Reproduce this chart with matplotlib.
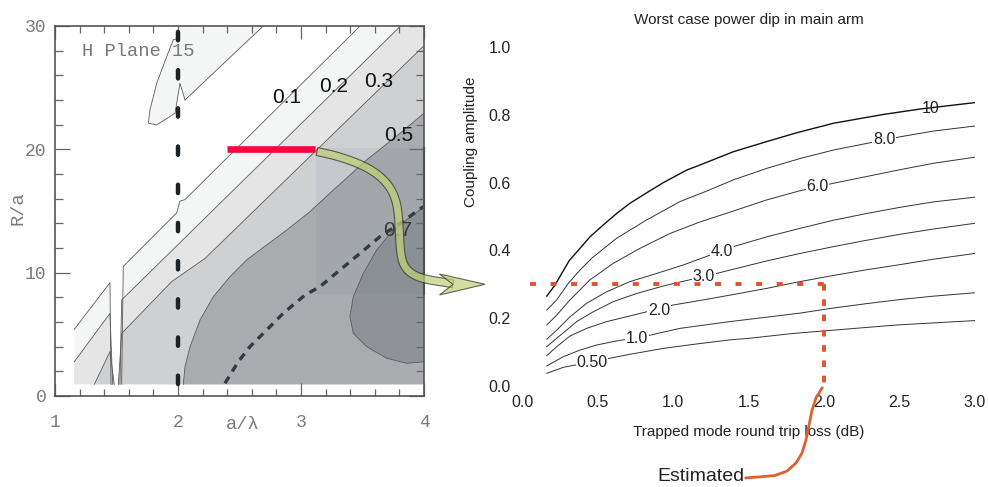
import numpy as np
import matplotlib.pyplot as plt
from matplotlib.patches import Polygon, Rectangle

plt.rcParams['lines.scale_dashes'] = False

# ---- left panel: H plane contour bands (digitised boundaries) ----
x_min, y_bot = 1.157, 0.95

lvl01_x = [1.157, 1.447, 1.455, 1.542, 1.555, 1.989, 2.016, 2.057, 3.48]
lvl01_y = [5.41, 9.19, 0.95, 0.95, 10.51, 14.85, 15.8, 15.93, 30.0]
lvl02_x = [1.157, 1.447, 1.469, 1.528, 1.542, 3.81]
lvl02_y = [2.78, 6.70, 0.95, 0.95, 7.79, 30.0]
lvl03_x = [1.32, 1.447, 1.482, 1.515, 1.542, 1.948, 2.22, 4.0]
lvl03_y = [0.95, 3.60, 0.95, 0.95, 5.08, 9.27, 11.16, 28.4]
lvl05_x = [2.043, 2.057, 2.098, 2.179, 2.287, 2.423, 2.558, 2.721, 2.884, 3.073, 3.263, 3.534, 3.805, 4.0]
lvl05_y = [0.95, 2.38, 4.00, 6.16, 8.05, 9.68, 11.03, 12.25, 13.46, 14.95, 16.7, 19.14, 21.3, 22.93]
lvl07_x = [4.0, 3.75, 3.615, 3.507, 3.425, 3.398, 3.425, 3.534, 3.697, 3.859, 4.0]
lvl07_y = [15.35, 13.46, 11.84, 9.95, 8.05, 6.43, 5.09, 4.00, 3.06, 2.65, 2.78]
island_x = [2.002, 2.016, 2.693, 2.057, 2.016, 1.976, 1.827, 1.759, 1.772, 1.827, 1.908, 1.962]
island_y = [29.0, 30.0, 30.0, 24.0, 25.36, 22.93, 21.98, 22.12, 23.2, 25.36, 27.52, 28.88]
dash_x = [2.382, 2.423, 2.49, 2.585, 2.721, 2.856, 3.033, 3.154, 3.317, 3.48, 3.642, 3.805, 3.994]
dash_y = [1.03, 1.70, 2.78, 4.00, 5.35, 6.71, 8.19, 8.86, 10.22, 11.57, 12.92, 14.0, 15.35]
band_levels = ['0.1', '0.2', '0.3', '0.5', '0.7']
band_label_x = [2.886, 3.268, 3.634, 3.797, 3.786]
band_label_y = [24.17, 25.08, 25.5, 21.1, 13.4]
band_colors = ['#f4f5f5', '#e5e5e6', '#cfd0d2', '#a9abaf', '#8f9297']
red_bar_x = [2.396, 3.114]
red_bar_y = 20.0

# ---- right panel: worst case power dip contours ----
dip_levels = ['0.50', '1.0', '2.0', '3.0', '4.0', '6.0', '8.0', '10']
dip_x = [
    [0.164, 0.273, 0.583, 0.715, 0.936, 1.157, 1.377, 1.51, 1.795, 2.482, 3.0],
    [0.164, 0.273, 0.384, 0.495, 0.605, 0.848, 1.046, 1.377, 1.621, 1.841, 2.062, 2.283, 2.503, 2.724, 3.0],
    [0.164, 0.230, 0.318, 0.428, 0.561, 0.715, 1.002, 1.201, 1.377, 1.621, 1.841, 2.062, 2.283, 2.503, 2.724, 3.0],
    [0.164, 0.230, 0.296, 0.362, 0.472, 0.605, 0.760, 0.936, 1.289, 1.377, 1.621, 1.841, 2.062, 2.283, 2.503, 2.724, 3.0],
    [0.164, 0.230, 0.318, 0.428, 0.561, 0.715, 0.892, 1.068, 1.399, 1.621, 1.841, 2.062, 2.283, 2.503, 2.724, 3.0],
    [0.164, 0.230, 0.318, 0.450, 0.605, 0.781, 0.980, 1.179, 1.399, 1.621, 1.841, 2.062, 2.283, 2.503, 2.724, 3.0],
    [0.164, 0.230, 0.307, 0.384, 0.462, 0.627, 0.826, 1.046, 1.223, 1.399, 1.621, 1.841, 2.062, 2.503, 2.724, 3.0],
    [0.164, 0.219, 0.263, 0.313, 0.384, 0.450, 0.538, 0.627, 0.715, 0.826, 0.936, 1.091, 1.179, 1.399,
     1.621, 1.819, 2.062, 2.393, 2.636, 3.0],
]
dip_y = [
    [0.0375, 0.055, 0.082, 0.0935, 0.111, 0.124, 0.136, 0.141, 0.155, 0.180, 0.193],
    [0.059, 0.0864, 0.106, 0.121, 0.131, 0.150, 0.170, 0.190, 0.203, 0.215, 0.230, 0.243, 0.255, 0.265, 0.275],
    [0.0894, 0.116, 0.1475, 0.170, 0.190, 0.2065, 0.239, 0.254, 0.268, 0.288, 0.308, 0.326, 0.343, 0.358, 0.374, 0.391],
    [0.116, 0.141, 0.165, 0.190, 0.219, 0.249, 0.273, 0.295, 0.332, 0.342, 0.369, 0.391, 0.411, 0.430, 0.4475, 0.463, 0.480],
    [0.138, 0.165, 0.204, 0.244, 0.278, 0.308, 0.332, 0.357, 0.411, 0.440, 0.465, 0.489, 0.509, 0.527, 0.543, 0.557],
    [0.180, 0.209, 0.254, 0.313, 0.362, 0.406, 0.450, 0.484, 0.516, 0.549, 0.576, 0.598, 0.618, 0.638, 0.657, 0.675],
    [0.224, 0.254, 0.303, 0.342, 0.377, 0.436, 0.490, 0.544, 0.575, 0.608, 0.642, 0.671, 0.696, 0.735, 0.752, 0.767],
    [0.265, 0.298, 0.332, 0.370, 0.406, 0.440, 0.475, 0.509, 0.539, 0.570, 0.600, 0.637, 0.652, 0.691,
     0.721, 0.747, 0.775, 0.801, 0.817, 0.836],
]
dip_label_x = [0.464, 0.762, 0.907, 1.205, 1.322, 1.957, 2.40, 2.705]
dip_label_y = [0.069, 0.141, 0.224, 0.322, 0.396, 0.588, 0.726, 0.819]

est_loss, est_coupling = 2.0, 0.3
est_curve_x = [1.483, 1.576, 1.675, 1.755, 1.815, 1.854, 1.881, 1.901, 1.921, 1.947, 1.987]
est_curve_y = [-0.271, -0.268, -0.264, -0.251, -0.227, -0.198, -0.159, -0.115, -0.071, -0.035, -0.006]

W, H = 989, 487
fig = plt.figure(figsize=(W / 100, H / 100), dpi=100)
fig.patch.set_facecolor('white')

# ===================== left panel =====================
ax = fig.add_axes([55 / W, 1 - 396 / H, 369 / W, 370 / H])
ax.set_xlim(1, 4)
ax.set_ylim(0, 30)


def band_polygon(xs, ys):
    pts = list(zip(xs, ys))
    if xs[-1] < 4:
        pts.append((4, ys[-1]))
    pts += [(4, y_bot), (xs[0], y_bot)]
    return pts


def edge_line(xs, ys):
    # drop the segments that run along the bottom of the filled area
    ex, ey = [xs[0]], [ys[0]]
    for i in range(1, len(xs)):
        if ys[i] == y_bot and ys[i - 1] == y_bot:
            ex.append(np.nan)
            ey.append(np.nan)
        ex.append(xs[i])
        ey.append(ys[i])
    return ex, ey


bands = [(lvl01_x, lvl01_y), (lvl02_x, lvl02_y), (lvl03_x, lvl03_y), (lvl05_x, lvl05_y)]
for (bx, by), col in zip(bands, band_colors[:4]):
    ax.add_patch(Polygon(band_polygon(bx, by), closed=True, fc=col, ec='none', zorder=1))
ax.add_patch(Polygon(list(zip(lvl07_x, lvl07_y)), closed=True, fc=band_colors[4], ec='none', zorder=1.1))
ax.add_patch(Polygon(list(zip(island_x, island_y)), closed=True, fc=band_colors[0], ec='none', zorder=1))

# faint tint of the pasted overlay
ax.add_patch(Rectangle((3.12, 8.3), 0.88, 11.8, fc='#6f8499', ec='none', alpha=0.10, zorder=1.2))

for bx, by in bands:
    ex, ey = edge_line(bx, by)
    ax.plot(ex, ey, color='#5c5c5c', lw=0.6, zorder=2)
ax.plot(lvl07_x, lvl07_y, color='#5c5c5c', lw=0.6, zorder=2)
ax.plot(island_x[3:] + island_x[:1], island_y[3:] + island_y[:1], color='#5c5c5c', lw=0.6, zorder=2)
ax.plot(island_x[2:4], island_y[2:4], color='#5c5c5c', lw=0.6, zorder=2)

ax.plot(dash_x, dash_y, color='#323c42', lw=2.4, dashes=(5.5, 4.5), zorder=3)
ax.plot([2, 2], [y_bot, 30], color='#1c2327', lw=3.2, dashes=(6, 21.5),
        dash_capstyle='round', zorder=3)

for lab, lx, ly in zip(band_levels, band_label_x, band_label_y):
    ax.text(lx, ly, lab, fontsize=15, family='Liberation Sans', ha='center', va='center',
            color='#111111' if lab != '0.7' else '#3a3a3a', zorder=4)

ax.plot(red_bar_x, [red_bar_y, red_bar_y], color='#f5073f', lw=4.8,
        solid_capstyle='butt', zorder=5)
ax.plot([4, 4], [8.3, 20.1], color='#3c4a52', lw=1.6, zorder=6, clip_on=False)

ax.text(0.073, 0.93, 'H Plane 15', transform=ax.transAxes, fontsize=13.5,
        family='Liberation Mono', color='#777777', va='center', ha='left', zorder=4)
ax.text(0.5095, -0.078, 'a/λ', transform=ax.transAxes, fontsize=13.5,
        family='Liberation Mono', color='#7a7a7a', va='center', ha='center')
ax.text(-0.1016, 0.508, 'R/a', transform=ax.transAxes, fontsize=13.5, rotation=90,
        family='Liberation Mono', color='#7a7a7a', va='center', ha='center')

ax.set_xticks([1, 2, 3, 4])
ax.set_xticks(np.arange(1, 4.01, 0.2), minor=True)
ax.set_yticks([0, 10, 20, 30])
ax.set_yticks(np.arange(0, 30.1, 2), minor=True)
ax.tick_params(which='both', direction='in', top=True, right=True, color='#666666',
               labelcolor='#7a7a7a', labelsize=13, labelfontfamily='Liberation Mono', width=0.9)
ax.tick_params(axis='x', which='major', length=9.5, pad=13)
ax.tick_params(axis='x', which='minor', length=5)
ax.tick_params(axis='y', which='major', length=10.8, pad=6)
ax.tick_params(axis='y', which='minor', length=5.5)
for sp in ax.spines.values():
    sp.set_color('#555555')
    sp.set_linewidth(1.2)
    sp.set_zorder(6)

# ===================== right panel =====================
ax2 = fig.add_axes([522 / W, 1 - 386 / H, 453 / W, 339 / H])
ax2.set_xlim(0, 3)
ax2.set_ylim(0, 1)
for sp in ax2.spines.values():
    sp.set_visible(False)

for i, (cx, cy) in enumerate(zip(dip_x, dip_y)):
    top = i == len(dip_x) - 1
    ax2.plot(cx, cy, color='#111111' if top else '#333333', lw=1.0 if top else 0.7, zorder=2)
for lab, lx, ly in zip(dip_levels, dip_label_x, dip_label_y):
    bbox = None if lab == '10' else dict(boxstyle='square,pad=0.05', fc='white', ec='none')
    ax2.text(lx, ly, lab, fontsize=11.5, family='Liberation Sans', color='#222222',
             ha='center', va='center', bbox=bbox, zorder=3)

red = '#e0522a'
ax2.plot([0.05, est_loss], [est_coupling, est_coupling], color=red, lw=2.8,
         dashes=(4.3, 10.5), zorder=4, clip_on=False)
ax2.plot([est_loss, est_loss], [est_coupling, 0], color=red, lw=2.8,
         dashes=(4.8, 6.2), zorder=4, clip_on=False)
ax2.plot(est_curve_x, est_curve_y, color='#e06030', lw=2.0, zorder=4, clip_on=False,
         solid_joinstyle='round')
ax2.text(1.472, -0.268, 'Estimated', fontsize=14, family='Liberation Sans', color='#222222',
         ha='right', va='center')

ax2.set_xticks(np.arange(0, 3.01, 0.5))
ax2.set_xticklabels(['%.1f' % v for v in np.arange(0, 3.01, 0.5)])
ax2.set_yticks(np.arange(0, 1.01, 0.2))
ax2.set_yticklabels(['%.1f' % v for v in np.arange(0, 1.01, 0.2)])
ax2.tick_params(length=0, labelsize=11.5, labelcolor='#222222', labelfontfamily='Liberation Sans')
ax2.tick_params(axis='x', pad=6.5)
ax2.tick_params(axis='y', pad=8)

ax2.text(0.5, 1.08, 'Worst case power dip in main arm', transform=ax2.transAxes,
         fontsize=11, family='Liberation Sans', color='#222222', ha='center', va='center')
ax2.text(0.5, -0.135, 'Trapped mode round trip loss (dB)', transform=ax2.transAxes,
         fontsize=11, family='Liberation Sans', color='#222222', ha='center', va='center')
ax2.text(-0.113, 0.72, 'Coupling amplitude', transform=ax2.transAxes, rotation=90,
         fontsize=11, family='Liberation Sans', color='#222222', ha='center', va='center')

# ===================== bent arrow between panels (figure pixels) =====================
arrow_path = np.array([(317, 151.5), (335, 155.5), (352, 161), (367, 167.5), (380, 176), (390, 187),
                       (396, 200), (398.5, 215), (399.5, 235), (400.5, 252), (403, 264), (409, 272),
                       (419, 277.5), (432, 280.5), (446, 282.5), (453, 284)], dtype=float)
for _ in range(3):
    q = 0.75 * arrow_path[:-1] + 0.25 * arrow_path[1:]
    r = 0.25 * arrow_path[:-1] + 0.75 * arrow_path[1:]
    mid = np.empty((2 * len(q), 2))
    mid[0::2], mid[1::2] = q, r
    arrow_path = np.vstack([arrow_path[:1], mid, arrow_path[-1:]])
d = np.gradient(arrow_path, axis=0)
nrm = np.c_[-d[:, 1], d[:, 0]]
nrm /= np.linalg.norm(nrm, axis=1)[:, None]
shaft = np.vstack([arrow_path + 4 * nrm, (arrow_path - 4 * nrm)[::-1]])
head = np.array([(439.5, 274), (485, 284.3), (439.5, 295), (453, 284.4)])


def to_fig(p):
    return np.c_[p[:, 0] / W, 1 - p[:, 1] / H]


for shape in (shaft, head):
    fig.add_artist(Polygon(to_fig(shape), closed=True, fc='#c3d07a', alpha=0.72,
                           ec='#2a3320', lw=0.8, transform=fig.transFigure, zorder=10))

fig.savefig('out.png', dpi=100)
